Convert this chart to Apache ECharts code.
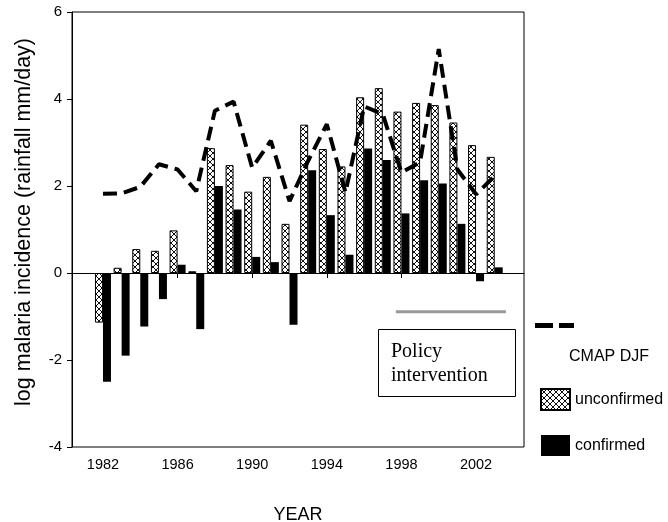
<!DOCTYPE html>
<html>
<head>
<meta charset="utf-8">
<script src="https://cdn.jsdelivr.net/npm/echarts@6/dist/echarts.min.js"></script>
<style>
html,body{margin:0;padding:0;background:#fff;}
#chart{width:668px;height:522px;}
</style>
</head>
<body>
<div id="chart"></div>
<script>
var years = [1982,1983,1984,1985,1986,1987,1988,1989,1990,1991,1992,1993,1994,1995,1996,1997,1998,1999,2000,2001,2002,2003];
var unconfirmed = [-1.14,0.12,0.55,0.51,0.98,0.04,2.87,2.48,1.87,2.21,1.13,3.41,2.85,2.45,4.04,4.25,3.71,3.91,3.86,3.46,2.94,2.67];
var confirmed = [-2.50,-1.90,-1.23,-0.60,0.19,-1.29,2.00,1.46,0.37,0.25,-1.19,2.36,1.33,0.42,2.86,2.60,1.37,2.13,2.06,1.13,-0.19,0.13];
var cmap = [1.82,1.83,1.98,2.50,2.38,1.88,3.73,3.94,2.42,3.04,1.65,2.58,3.42,1.85,3.83,3.65,2.31,2.55,5.15,2.38,1.81,2.23];
var xTickLabels = [1982,1986,1990,1994,1998,2002];
var yTicks = [-4,-2,0,2,4,6];
var policyYears = [1997.7, 2003.6];
var policyLevel = -0.89;

function pair(xs, ys){ return xs.map(function(x,i){ return [x, ys[i]]; }); }

var pc = document.createElement('canvas');
pc.width = 6; pc.height = 6;
var ctx = pc.getContext('2d');
ctx.fillStyle = '#fff'; ctx.fillRect(0,0,6,6);
ctx.strokeStyle = '#111'; ctx.lineWidth = 1;
ctx.beginPath();
ctx.moveTo(0,0); ctx.lineTo(6,6);
ctx.moveTo(6,0); ctx.lineTo(0,6);
ctx.stroke();

var chart = echarts.init(document.getElementById('chart'));
chart.setOption({
  animation: false,
  backgroundColor: '#fff',
  grid: {left: 72, right: 144, top: 12, bottom: 75, containLabel: false, outerBoundsMode: 'none',
    show: true, borderColor: '#000', borderWidth: 1, backgroundColor: 'transparent'},
  xAxis: {
    type: 'value', min: 1980.34, max: 2004.57,
    name: 'YEAR', nameLocation: 'middle', nameGap: 59,
    nameTextStyle: {fontFamily: 'Liberation Sans', fontSize: 18, color: '#000'},
    axisLine: {show: true, lineStyle: {color: '#000', width: 1}},
    axisTick: {show: true, length: 5, customValues: xTickLabels, lineStyle: {color: '#000'}},
    axisLabel: {customValues: xTickLabels, margin: 10, fontFamily: 'Liberation Sans', fontSize: 14.5, color: '#000',
      formatter: function(v){ return String(Math.round(v)); }},
    splitLine: {show: false}
  },
  yAxis: {
    type: 'value', min: -4, max: 6, interval: 2,
    axisLine: {show: true, lineStyle: {color: '#000', width: 1}},
    axisTick: {show: true, length: 5, lineStyle: {color: '#000'}},
    axisLabel: {margin: 10, fontFamily: 'Liberation Sans', fontSize: 15, color: '#000'},
    splitLine: {show: false}
  },
  legend: {
    data: [{name: 'unconfirmed', icon: 'rect'}, {name: 'confirmed', icon: 'rect'}],
    orient: 'vertical', left: 535, top: 383,
    itemWidth: 29, itemHeight: 21, itemGap: 24,
    textStyle: {fontFamily: 'Liberation Sans', fontSize: 16, color: '#000'}
  },
  series: [
    {
      name: 'unconfirmed', type: 'bar', data: pair(years, unconfirmed),
      barWidth: 8, barGap: '0%',
      itemStyle: {color: {image: pc, repeat: 'repeat'}, borderColor: '#000', borderWidth: 1}
    },
    {
      name: 'confirmed', type: 'bar', data: pair(years, confirmed),
      barWidth: 8, barGap: '0%',
      itemStyle: {color: '#000'}
    },
    {
      name: 'CMAP DJF', type: 'line', data: pair(years, cmap),
      symbol: 'none', z: 5,
      lineStyle: {color: '#000', width: 4, type: [14, 7]}
    },
    {
      name: 'Policy intervention', type: 'line',
      data: [[policyYears[0], policyLevel], [policyYears[1], policyLevel]],
      symbol: 'none', lineStyle: {color: '#999', width: 3}
    }
  ],
  graphic: [
    {type: 'text', x: 24, y: 222, rotation: Math.PI/2,
     style: {text: 'log malaria incidence (rainfall mm/day)', fontFamily: 'Liberation Sans', fontSize: 21.5, fill: '#000', align: 'center', verticalAlign: 'middle'}},
    {type: 'rect', shape: {x: 378.5, y: 329.5, width: 137, height: 67}, style: {fill: '#fff', stroke: '#000', lineWidth: 1}},
    {type: 'text', x: 391, y: 364,
     style: {text: 'Policy\nintervention', fontFamily: 'Liberation Serif', fontSize: 20, lineHeight: 24, fill: '#000', align: 'left', verticalAlign: 'middle'}},
    {type: 'rect', shape: {x: 535, y: 323, width: 18, height: 5}, style: {fill: '#000'}},
    {type: 'rect', shape: {x: 559, y: 323, width: 15, height: 5}, style: {fill: '#000'}},
    {type: 'text', x: 569, y: 357,
     style: {text: 'CMAP DJF', fontFamily: 'Liberation Sans', fontSize: 16, fill: '#000', align: 'left', verticalAlign: 'middle'}}
  ]
});
</script>
</body>
</html>
